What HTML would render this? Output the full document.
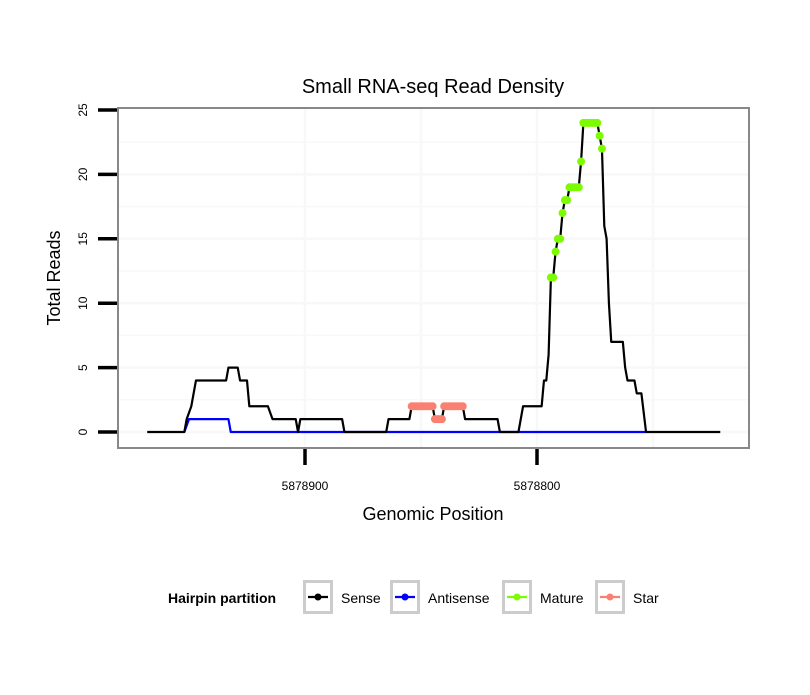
<!DOCTYPE html>
<html><head><meta charset="utf-8"><style>
body{margin:0;background:#fff;}
svg text{font-family:"Liberation Sans",Arial,sans-serif;}
</style></head><body>
<svg id="chart" width="810" height="690" xmlns="http://www.w3.org/2000/svg">
<rect width="810" height="690" fill="#fff"/>
<text x="433" y="93" font-size="20" text-anchor="middle">Small RNA-seq Read Density</text>
<g id="grid"></g>
<g id="series"></g>
<rect x="118" y="108" width="631" height="340" fill="none" stroke="#888" stroke-width="2"/>
<g id="axes"></g>
<text x="433" y="520" font-size="18" text-anchor="middle">Genomic Position</text>
<text transform="translate(60,278) rotate(-90)" font-size="18" text-anchor="middle">Total Reads</text>
<g id="legend">
<text x="168" y="603" font-size="14" font-weight="bold">Hairpin partition</text>
</g>
</svg>
<script>
const sensePos=[5878968,5878952,5878951,5878949,5878947,5878934,5878933,5878929,5878928,5878925,5878924,5878916,5878914,5878904,5878903,5878902,5878884,5878883,5878865,5878864,5878855,5878854,5878845,5878844,5878841,5878840,5878832,5878831,5878817,5878816,5878808,5878806,5878798,5878797,5878796,5878795,5878794,5878793,5878792,5878791,5878790,5878789,5878788,5878787,5878786,5878782,5878781,5878780,5878774,5878773,5878772,5878771,5878770,5878769,5878768,5878763,5878762,5878761,5878758,5878757,5878755,5878753,5878721];
const senseVal=[0,0,1,2,4,4,5,5,4,4,2,2,1,1,0,1,1,0,0,1,1,2,2,1,1,2,2,1,1,0,0,2,2,4,4,6,12,12,14,15,15,17,18,18,19,19,21,24,24,23,22,16,15,10,7,7,5,4,4,3,3,0,0];
const antiPos=[5878952,5878950,5878933,5878932,5878753];
const antiVal=[0,1,1,0,0];
const maturePos=[5878794,5878793,5878792,5878791,5878790,5878789,5878788,5878787,5878786,5878785,5878784,5878783,5878782,5878781,5878780,5878779,5878778,5878777,5878776,5878775,5878774,5878773,5878772];
const matureVal=[12,12,14,15,15,17,18,18,19,19,19,19,19,21,24,24,24,24,24,24,24,23,22];
const starPos=[5878854,5878853,5878852,5878851,5878850,5878849,5878848,5878847,5878846,5878845,5878844,5878843,5878842,5878841,5878840,5878839,5878838,5878837,5878836,5878835,5878834,5878833,5878832];
const starVal=[2,2,2,2,2,2,2,2,2,2,1,1,1,1,2,2,2,2,2,2,2,2,2];
const xTicks=[5878900,5878800];
const xGrid=[5878850,5878750];
const yTicks=[0,5,10,15,20,25];
const yMinor=[2.5,7.5,12.5,17.5,22.5];

const NS="http://www.w3.org/2000/svg";
const X=p=>305+(5878900-p)*2.32;
const Y=v=>432-v*12.88;
function mk(parent,tag,attrs){const e=document.createElementNS(NS,tag);for(const k in attrs)e.setAttribute(k,attrs[k]);document.getElementById(parent).appendChild(e);return e;}

yMinor.concat(yTicks).forEach(v=>{if(Y(v)>110){const l=mk('grid','line',{x1:119,x2:748,y1:Y(v),y2:Y(v),stroke:'#f8f8f8','stroke-width':yTicks.includes(v)?2.5:1.5});

}});
xGrid.concat(xTicks).forEach(p=>{const l=mk('grid','line',{x1:X(p),x2:X(p),y1:109,y2:447,stroke:'#f8f8f8','stroke-width':2.5});

});

yTicks.forEach(v=>{const t=mk('axes','line',{x1:98,x2:117,y1:Y(v),y2:Y(v),stroke:'#000','stroke-width':3.5});


const tx=mk('axes','text',{transform:`translate(87,${Y(v)}) rotate(-90)`,'font-size':12,'text-anchor':'middle'});tx.textContent=v;

});
xTicks.forEach(p=>{const t=mk('axes','line',{x1:X(p),x2:X(p),y1:449,y2:465,stroke:'#000','stroke-width':3.5});


const tx=mk('axes','text',{x:X(p),y:490,'font-size':12,'text-anchor':'middle'});tx.textContent=p;

});

function line(pos,val,color,name){const d=pos.map((p,i)=>(i?'L':'M')+X(p)+','+Y(val[i])).join('');
const e=mk('series','path',{d:d,fill:'none',stroke:color,'stroke-width':2.2,'stroke-linejoin':'round'});

}
function dots(pos,val,color,name){pos.forEach((p,i)=>{const c=mk('series','circle',{cx:X(p),cy:Y(val[i]),r:4,fill:color});

});}
line(antiPos,antiVal,'#0000ff','antisense-line');
line(sensePos,senseVal,'#000','sense-line');
dots(starPos,starVal,'#fa8072','star-point');
dots(maturePos,matureVal,'#7cfc00','mature-point');

const legendItems=[['Sense','#000',303],['Antisense','#0000ff',390],['Mature','#7cfc00',502],['Star','#fa8072',595]];
legendItems.forEach(it=>{const b=mk('legend','rect',{x:it[2]+1.5,y:581.5,width:27,height:31,fill:'#fff',stroke:'#ccc','stroke-width':3});


const l=mk('legend','line',{x1:it[2]+5,x2:it[2]+25,y1:597,y2:597,stroke:it[1],'stroke-width':2.2});


const c=mk('legend','circle',{cx:it[2]+15,cy:597,r:3.5,fill:it[1]});


const t=mk('legend','text',{x:it[2]+38,y:603,'font-size':14});t.textContent=it[0];

});
</script>
</body></html>
